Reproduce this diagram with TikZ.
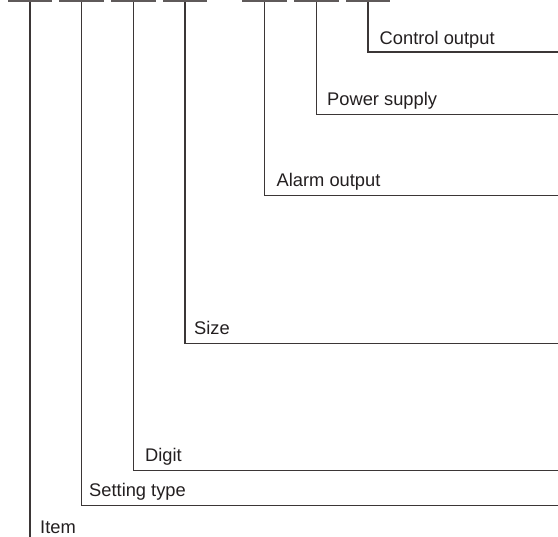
\documentclass[tikz,border=0pt]{standalone}
\usepackage{fontspec}
\setmainfont{Liberation Sans}
\definecolor{barc}{HTML}{5F5A5A}
\definecolor{linec}{HTML}{3B3636}
\definecolor{txtc}{HTML}{231F20}
\begin{document}
\begin{tikzpicture}[x=1pt,y=-1pt,
  bar/.style={fill=barc, draw=none, minimum width=44.5pt, minimum height=2.2pt, inner sep=0pt, outer sep=0pt, anchor=north},
  lead/.style={draw=linec, line width=1.1pt},
  lbl/.style={anchor=base west, inner sep=0pt, text=txtc, font=\fontsize{18.3}{20}\selectfont}]
\useasboundingbox (0,0) rectangle (558,537);
% code digit bars
\node[bar] (b1) at (30,0) {};
\node[bar] (b2) at (81.5,0) {};
\node[bar] (b3) at (133.5,0) {};
\node[bar] (b4) at (185,0) {};
\node[bar] (b5) at (264.5,0) {};
\node[bar] (b6) at (316.5,0) {};
\node[bar] (b7) at (368,0) {};
% right ends
\coordinate (e1) at (30,537);
\coordinate (e2) at (558,505.7);
\coordinate (e3) at (558,470.7);
\coordinate (e4) at (558,343.5);
\coordinate (e5) at (558,195.5);
\coordinate (e6) at (558,114.5);
\coordinate (e7) at (558,52);
% leaders
\draw[lead] (b1.south) -- (e1);
\draw[lead] (b2.south) |- (e2);
\draw[lead] (b3.south) |- (e3);
\draw[lead] (b4.south) |- (e4);
\draw[lead] (b5.south) |- (e5);
\draw[lead] (b6.south) |- (e6);
\draw[lead] (b7.south) |- (e7);
% labels
\node[lbl] (l7) at (379.5,44.8) {Control output};
\node[lbl] (l6) at (327,106) {Power supply};
\node[lbl] (l5) at (276.5,187) {Alarm output};
\node[lbl] (l4) at (194,335) {Size};
\node[lbl] (l3) at (145,462) {Digit};
\node[lbl] (l2) at (89,497) {Setting type};
\node[lbl] (l1) at (40,534) {Item};
\end{tikzpicture}
\end{document}
